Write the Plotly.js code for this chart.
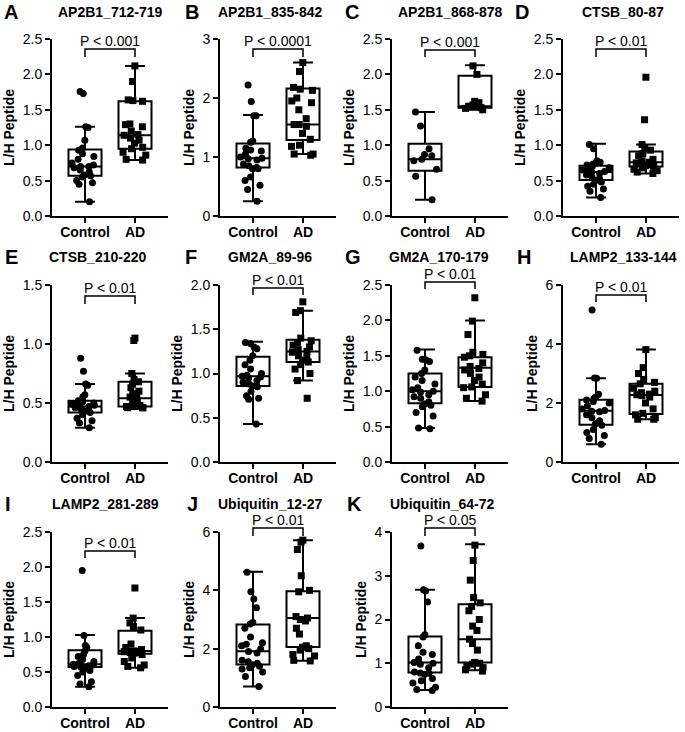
<!DOCTYPE html>
<html><head><meta charset="utf-8">
<script src="https://cdn.plot.ly/plotly-3.0.1.min.js"></script>
<style>html,body{margin:0;padding:0;background:#fff}#chart{width:685px;height:732px}</style>
</head><body><div id="chart"></div>
<script>
// ---------- data ----------
const groups = ['Control', 'AD'];
const panelLetters = ['A','B','C','D','E','F','G','H','I','J','K'];
const peptides = ['AP2B1_712-719','AP2B1_835-842','AP2B1_868-878','CTSB_80-87','CTSB_210-220','GM2A_89-96','GM2A_170-179','LAMP2_133-144','LAMP2_281-289','Ubiquitin_12-27','Ubiquitin_64-72'];
const pLabels = ['P < 0.001','P < 0.0001','P < 0.001','P < 0.01','P < 0.01','P < 0.01','P < 0.01','P < 0.01','P < 0.01','P < 0.01','P < 0.05'];
const yMax  = [2.5, 3, 2.5, 2.5, 1.5, 2, 2.5, 6, 2.5, 6, 4];
const yStep = [0.5, 1, 0.5, 0.5, 0.5, 0.5, 0.5, 2, 0.5, 2, 1];

// box statistics (Control / AD), per panel A..K
const ctrlLo  = [0.20, 0.25, 0.23, 0.26, 0.29, 0.43, 0.48, 0.60, 0.29, 0.70, 0.39];
const ctrlQ1  = [0.57, 0.82, 0.64, 0.51, 0.42, 0.86, 0.83, 1.26, 0.57, 1.46, 0.79];
const ctrlMed = [0.70, 0.98, 0.80, 0.62, 0.47, 0.97, 1.00, 1.74, 0.61, 1.91, 1.02];
const ctrlQ3  = [0.94, 1.23, 1.02, 0.71, 0.52, 1.19, 1.25, 2.11, 0.81, 2.83, 1.61];
const ctrlHi  = [1.26, 1.71, 1.47, 1.02, 0.66, 1.36, 1.59, 2.84, 1.03, 4.64, 2.68];
const adLo    = [0.79, 1.05, 1.50, 0.60, 0.45, 0.92, 0.86, 1.45, 0.56, 1.59, 0.84];
const adQ1    = [0.95, 1.29, 1.53, 0.70, 0.47, 1.13, 1.06, 1.63, 0.76, 2.06, 1.02];
const adMed   = [1.14, 1.55, 1.55, 0.76, 0.54, 1.25, 1.33, 2.27, 0.80, 3.05, 1.55];
const adQ3    = [1.62, 2.16, 1.98, 0.91, 0.68, 1.38, 1.48, 2.65, 1.09, 3.97, 2.35];
const adHi    = [2.12, 2.60, 2.13, 1.01, 0.75, 1.71, 2.00, 3.81, 1.27, 5.72, 3.72];

// individual L/H values
const ctrl_A = [0.20,0.45,0.47,0.50,0.55,0.57,0.58,0.62,0.65,0.68,0.70,0.70,0.72,0.75,0.80,0.84,0.88,0.93,0.96,1.07,1.25,1.26,1.73,1.76];
const ad_A   = [0.79,0.80,0.86,0.90,0.95,0.97,1.03,1.07,1.10,1.14,1.15,1.20,1.26,1.29,1.30,1.62,1.63,1.64,1.90,2.12];
const ctrl_B = [0.25,0.45,0.52,0.60,0.66,0.80,0.80,0.82,0.85,0.88,0.95,0.97,0.98,1.00,1.05,1.10,1.12,1.15,1.25,1.27,1.70,1.70,1.94,2.22];
const ad_B   = [1.03,1.05,1.05,1.18,1.20,1.30,1.40,1.52,1.55,1.55,1.65,1.80,1.92,1.95,2.00,2.13,2.15,2.18,2.45,2.60];
const ctrl_C = [0.23,0.56,0.66,0.78,0.80,0.85,0.87,0.95,1.27,1.47];
const ad_C   = [1.50,1.52,1.53,1.55,1.57,1.60,1.62,2.00,2.12];
const ctrl_D = [0.26,0.35,0.38,0.42,0.45,0.48,0.50,0.53,0.55,0.58,0.60,0.62,0.63,0.65,0.66,0.68,0.70,0.72,0.73,0.75,0.76,0.78,0.95,1.01];
const ad_D   = [0.60,0.62,0.64,0.66,0.68,0.70,0.71,0.72,0.74,0.75,0.76,0.78,0.80,0.85,0.88,0.93,0.96,1.01,1.36,1.96];
const ctrl_E = [0.29,0.33,0.35,0.37,0.40,0.42,0.43,0.44,0.45,0.46,0.47,0.47,0.48,0.49,0.50,0.50,0.51,0.52,0.55,0.57,0.65,0.66,0.77,0.88];
const ad_E   = [0.46,0.46,0.46,0.47,0.47,0.48,0.50,0.52,0.53,0.55,0.56,0.58,0.60,0.63,0.66,0.68,0.70,0.75,1.03,1.05];
const ctrl_F = [0.43,0.71,0.72,0.75,0.80,0.85,0.86,0.87,0.88,0.90,0.92,0.95,0.96,0.97,0.98,1.00,1.05,1.10,1.15,1.20,1.28,1.30,1.34,1.35];
const ad_F   = [0.72,0.92,1.00,1.05,1.10,1.13,1.15,1.18,1.20,1.24,1.25,1.27,1.30,1.32,1.35,1.37,1.40,1.69,1.71,1.81];
const ctrl_G = [0.47,0.48,0.65,0.70,0.78,0.80,0.82,0.85,0.90,0.92,0.95,0.99,1.00,1.02,1.05,1.10,1.15,1.20,1.25,1.30,1.42,1.44,1.45,1.58];
const ad_G   = [0.86,0.90,0.95,1.05,1.06,1.10,1.15,1.20,1.25,1.30,1.32,1.35,1.40,1.48,1.50,1.52,1.55,1.80,1.99,2.32];
const ctrl_H = [0.60,0.80,0.90,1.00,1.10,1.25,1.30,1.40,1.50,1.60,1.70,1.72,1.75,1.80,1.90,2.00,2.05,2.10,2.15,2.20,2.30,2.84,2.85,5.15];
const ad_H   = [1.45,1.45,1.50,1.60,1.65,1.80,2.00,2.20,2.25,2.28,2.30,2.35,2.40,2.50,2.65,2.70,2.80,3.00,3.20,3.81];
const ctrl_I = [0.29,0.33,0.36,0.45,0.50,0.52,0.55,0.56,0.57,0.58,0.59,0.60,0.60,0.61,0.62,0.65,0.68,0.72,0.75,0.80,0.85,0.88,1.02,1.95];
const ad_I   = [0.56,0.58,0.60,0.65,0.70,0.75,0.77,0.78,0.78,0.79,0.80,0.80,0.82,0.85,0.90,1.10,1.15,1.20,1.27,1.70];
const ctrl_J = [0.70,1.05,1.20,1.30,1.35,1.40,1.45,1.50,1.55,1.60,1.85,1.90,2.00,2.10,2.15,2.20,2.40,2.70,2.85,2.90,3.40,3.70,3.95,4.62];
const ad_J   = [1.58,1.60,1.75,1.80,1.95,2.00,2.05,2.10,2.50,2.70,2.95,3.00,3.05,3.10,3.95,4.00,4.50,5.40,5.65,5.72];
const ctrl_K = [0.38,0.40,0.45,0.55,0.60,0.65,0.75,0.77,0.78,0.80,0.90,0.98,1.00,1.02,1.10,1.20,1.25,1.40,1.60,1.65,2.40,2.65,2.68,3.68];
const ad_K   = [0.82,0.85,0.90,0.95,0.98,1.00,1.02,1.30,1.45,1.55,1.75,1.85,2.00,2.20,2.30,2.38,2.50,2.90,3.35,3.70];

const ctrlPoints = [ctrl_A, ctrl_B, ctrl_C, ctrl_D, ctrl_E, ctrl_F, ctrl_G, ctrl_H, ctrl_I, ctrl_J, ctrl_K];
const adPoints   = [ad_A, ad_B, ad_C, ad_D, ad_E, ad_F, ad_G, ad_H, ad_I, ad_J, ad_K];

// ---------- layout geometry (pixels) ----------
const W = 685, H = 732;
const colX = [52, 220, 392, 563], AXW = 116;
const rowTop = [39, 285, 532], rowH = [177, 177, 175];
const XR = [-0.66, 1.66];
const letterX = [2, 183, 343, 513, 3, 183, 343, 515, 3, 185, 345];
const titleX  = [110, 270, 450, 623, 97, 270, 439, 623, 105, 270, 442];
const headY   = [12, 257, 504];
const bracketTop = [10, 10, 11, 10, 11, 3, -3, 10, 19, -4, -4];
const bracketBot = [18, 18, 18, 18, 19, 10, 4, 17, 26, 4, 4];

const FONT = '"Liberation Sans", Arial, Helvetica, sans-serif';
const layout = {
  width: W, height: H, margin: {l: 0, r: 0, t: 0, b: 0},
  showlegend: false, paper_bgcolor: '#fff', plot_bgcolor: 'rgba(0,0,0,0)',
  font: {family: FONT, color: '#000', size: 14},
  boxmode: 'overlay',
  annotations: [], shapes: []
};
const traces = [];
const px2x = p => p / W, px2y = p => 1 - p / H;

for (let i = 0; i < 11; i++) {
  const col = i % 4, row = Math.floor(i / 4);
  const sfx = i === 0 ? '' : String(i + 1);
  const xid = 'x' + sfx, yid = 'y' + sfx;
  layout['xaxis' + sfx] = {
    domain: [px2x(colX[col]), px2x(colX[col] + AXW)], anchor: yid,
    type: 'category', categoryorder: 'array', categoryarray: groups, range: XR,
    showline: true, linewidth: 2, linecolor: '#000', ticks: 'outside', ticklen: 5,
    tickwidth: 2, tickcolor: '#000', showgrid: false, zeroline: false,
    ticklabelstandoff: -3,
    tickfont: {size: 14, weight: 'bold', family: FONT}, fixedrange: true
  };
  layout['yaxis' + sfx] = {
    domain: [px2y(rowTop[row] + rowH[row]), px2y(rowTop[row])], anchor: xid,
    range: [0, yMax[i]], tick0: 0, dtick: yStep[i], tickformat: yStep[i] < 1 ? '.1f' : '',
    showline: true, linewidth: 2, linecolor: '#000', ticks: 'outside', ticklen: 5,
    tickwidth: 2, tickcolor: '#000', showgrid: false, zeroline: false,
    tickfont: {size: 14, family: FONT}, fixedrange: true,
    title: {text: 'L/H Peptide', font: {size: 14, weight: 'bold', family: FONT}, standoff: 5}
  };
  // box (statistics)
  traces.push({
    type: 'box', xaxis: xid, yaxis: yid, x: groups,
    lowerfence: [ctrlLo[i], adLo[i]], q1: [ctrlQ1[i], adQ1[i]], median: [ctrlMed[i], adMed[i]],
    q3: [ctrlQ3[i], adQ3[i]], upperfence: [ctrlHi[i], adHi[i]],
    boxpoints: false, width: 0.66, whiskerwidth: 0.6,
    line: {color: '#000', width: 2}, fillcolor: 'rgba(0,0,0,0)', hoverinfo: 'skip'
  });
  // individual points
  [[ctrlPoints[i], 'Control', 'circle'], [adPoints[i], 'AD', 'square']].forEach(([vals, g, sym]) => {
    traces.push({
      type: 'box', xaxis: xid, yaxis: yid, x0: g, y: vals, name: g,
      boxpoints: 'all', jitter: 0.9, pointpos: 0, width: 0.66,
      line: {width: 0, color: 'rgba(0,0,0,0)'}, fillcolor: 'rgba(0,0,0,0)',
      marker: {color: '#000', size: 7, symbol: sym, line: {width: 0}}
    });
  });
  // significance bracket
  const scale = AXW / (XR[1] - XR[0]);
  const xa = colX[col] + (0 - XR[0]) * scale, xb = colX[col] + (1 - XR[0]) * scale;
  const yt = rowTop[row] + bracketTop[i], yb = rowTop[row] + bracketBot[i];
  layout.shapes.push({
    type: 'path', xref: 'paper', yref: 'paper',
    path: `M ${px2x(xa)},${px2y(yb)} L ${px2x(xa)},${px2y(yt)} L ${px2x(xb)},${px2y(yt)} L ${px2x(xb)},${px2y(yb)}`,
    line: {color: '#000', width: 1.5}
  });
  layout.annotations.push({
    xref: 'paper', yref: 'paper', x: px2x((xa + xb) / 2), y: px2y(yt - 8),
    xanchor: 'center', yanchor: 'middle', showarrow: false, text: pLabels[i],
    font: {size: 14, family: FONT, color: '#000'}
  });
  // panel letter and title
  layout.annotations.push({
    xref: 'paper', yref: 'paper', x: px2x(letterX[i]), y: px2y(headY[row]),
    xanchor: 'left', yanchor: 'middle', showarrow: false, text: panelLetters[i],
    font: {size: 20, weight: 'bold', family: FONT, color: '#000'}
  });
  layout.annotations.push({
    xref: 'paper', yref: 'paper', x: px2x(titleX[i]), y: px2y(headY[row]),
    xanchor: 'center', yanchor: 'middle', showarrow: false, text: peptides[i],
    font: {size: 14, weight: 'bold', family: FONT, color: '#000'}
  });
}

Plotly.newPlot('chart', traces, layout, {staticPlot: true, displayModeBar: false});
</script>
</body></html>
